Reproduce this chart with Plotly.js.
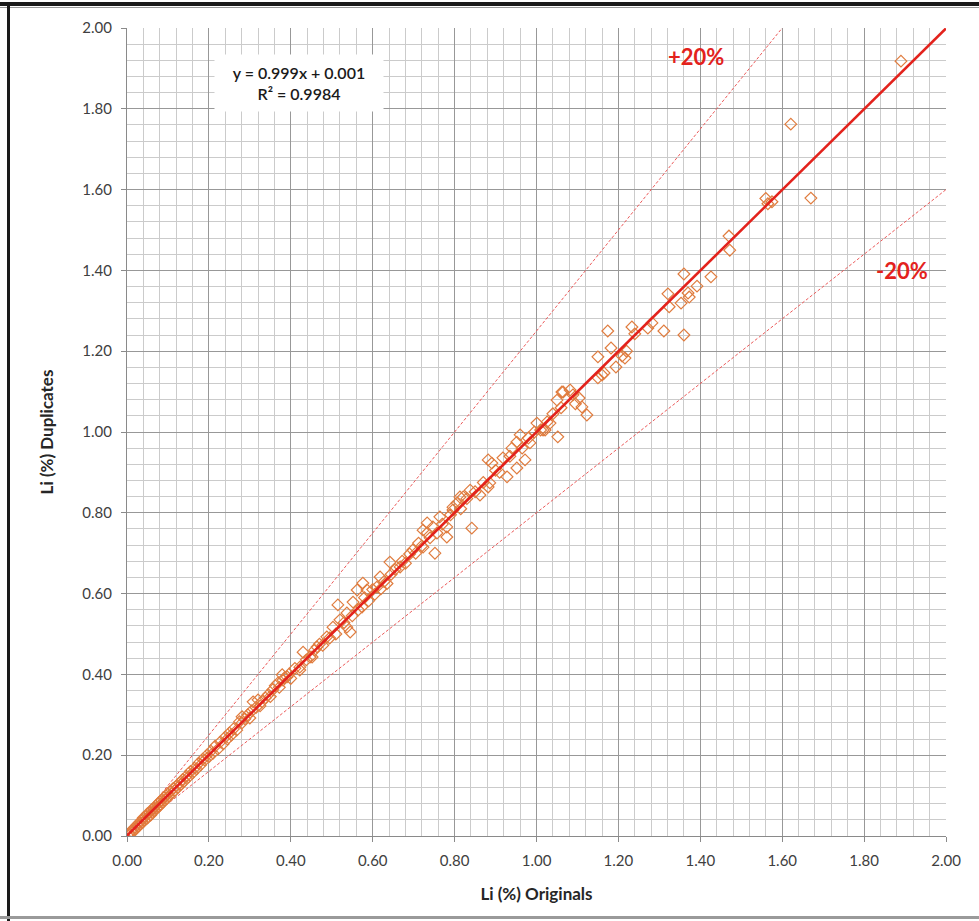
<!DOCTYPE html>
<html>
<head>
<meta charset="utf-8">
<script src="https://cdn.plot.ly/plotly-3.0.1.min.js"></script>
<style>
  html, body { margin: 0; padding: 0; background: #ffffff; }
  #wrap { position: relative; width: 979px; height: 921px; overflow: hidden; }
  #chart { position: absolute; left: 0; top: 0; width: 979px; height: 921px; }
  .frame { position: absolute; pointer-events: none; }
</style>
</head>
<body>
<div id="wrap">
  <div id="chart"></div>
  <div class="frame" style="left:0;top:2px;width:979px;height:4px;background:#1a1a1a;"></div>
  <div class="frame" style="left:0;top:7px;width:979px;height:1px;background:#9a9a9a;"></div>
  <div class="frame" style="left:7px;top:2px;width:3px;height:919px;background:#1a1a1a;"></div>
  <div class="frame" style="left:0;top:916px;width:979px;height:3px;background:#9a9a9a;"></div>
</div>
<script>
// Li (%) Originals (x) and Li (%) Duplicates (y)
const originals = [
  0.005,0.010,0.012,0.015,0.018,0.020,0.022,0.025,0.028,0.030,0.032,0.035,0.038,0.040,0.042,0.045,0.048,0.050,0.052,0.055,
  0.058,0.060,0.062,0.065,0.068,0.070,0.072,0.075,0.078,0.080,0.082,0.085,0.088,0.090,0.093,0.095,0.098,0.100,0.103,0.106,
  0.110,0.113,0.116,0.120,0.124,0.128,0.132,0.136,0.140,0.145,0.150,0.155,0.160,0.165,0.170,0.175,0.180,0.185,0.190,0.195,
  0.200,0.205,0.210,0.215,0.222,0.228,0.235,0.240,0.245,0.250,0.255,0.260,0.268,0.275,0.281,0.281,0.288,0.295,0.300,0.305,
  0.308,0.315,0.320,0.325,0.330,0.338,0.345,0.350,0.356,0.362,0.369,0.372,0.379,0.381,0.385,0.391,0.395,0.400,0.410,0.422,
  0.422,0.430,0.438,0.447,0.452,0.458,0.464,0.470,0.478,0.488,0.495,0.503,0.510,0.515,0.520,0.530,0.537,0.537,0.545,0.550,
  0.552,0.562,0.565,0.574,0.576,0.580,0.586,0.590,0.600,0.605,0.610,0.618,0.620,0.628,0.635,0.642,0.645,0.655,0.667,0.672,
  0.680,0.690,0.698,0.705,0.712,0.720,0.723,0.723,0.733,0.733,0.740,0.747,0.752,0.757,0.764,0.770,0.781,0.781,0.790,0.796,
  0.796,0.806,0.813,0.815,0.821,0.830,0.838,0.842,0.850,0.862,0.870,0.882,0.882,0.886,0.891,0.900,0.910,0.918,0.928,0.935,
  0.940,0.952,0.952,0.960,0.965,0.972,0.980,0.984,0.995,1.001,1.010,1.016,1.021,1.026,1.033,1.040,1.050,1.052,1.060,1.062,
  1.065,1.082,1.089,1.095,1.104,1.111,1.123,1.150,1.150,1.160,1.165,1.174,1.182,1.194,1.209,1.216,1.220,1.233,1.240,1.272,
  1.282,1.311,1.321,1.324,1.353,1.360,1.360,1.370,1.373,1.392,1.426,1.472,1.470,1.560,1.565,1.575,1.621,1.670,1.890
];
const duplicates = [
  0.004,0.012,0.008,0.017,0.014,0.022,0.018,0.028,0.024,0.033,0.029,0.037,0.033,0.045,0.038,0.048,0.043,0.055,0.047,0.058,
  0.052,0.065,0.058,0.068,0.063,0.074,0.069,0.080,0.073,0.085,0.078,0.088,0.084,0.095,0.089,0.100,0.094,0.105,0.099,0.110,
  0.106,0.118,0.112,0.123,0.120,0.131,0.128,0.140,0.136,0.148,0.146,0.160,0.156,0.168,0.166,0.180,0.176,0.190,0.188,0.200,
  0.196,0.210,0.205,0.222,0.215,0.233,0.228,0.245,0.240,0.255,0.250,0.265,0.262,0.283,0.295,0.280,0.290,0.300,0.292,0.310,
  0.332,0.318,0.337,0.322,0.333,0.342,0.350,0.345,0.362,0.372,0.379,0.368,0.399,0.386,0.392,0.394,0.400,0.390,0.415,0.418,
  0.411,0.455,0.436,0.443,0.443,0.460,0.468,0.475,0.472,0.493,0.490,0.517,0.500,0.572,0.535,0.528,0.552,0.517,0.505,0.545,
  0.579,0.609,0.560,0.567,0.626,0.590,0.609,0.582,0.610,0.598,0.616,0.641,0.612,0.630,0.625,0.678,0.648,0.660,0.666,0.680,
  0.675,0.698,0.708,0.700,0.725,0.718,0.715,0.757,0.775,0.750,0.738,0.765,0.700,0.750,0.790,0.772,0.765,0.740,0.795,0.807,
  0.814,0.824,0.839,0.810,0.839,0.835,0.856,0.762,0.852,0.844,0.875,0.864,0.931,0.874,0.923,0.905,0.900,0.936,0.889,0.940,
  0.960,0.975,0.911,0.993,0.960,0.931,0.985,0.973,1.000,1.022,1.005,1.005,1.005,1.025,1.022,1.045,1.079,0.988,1.060,1.099,
  1.099,1.104,1.092,1.070,1.084,1.062,1.042,1.186,1.134,1.141,1.146,1.250,1.208,1.161,1.188,1.183,1.200,1.260,1.243,1.257,
  1.270,1.250,1.342,1.310,1.319,1.391,1.240,1.344,1.334,1.361,1.384,1.450,1.485,1.578,1.565,1.570,1.762,1.579,1.918
];

// Linear fit shown on the chart and the +/-20% envelope factors
const fitSlope = 0.999;
const fitIntercept = 0.001;
const upperFactor = 1 / 0.8;
const lowerFactor = 0.8;
const lineX = [0, 2];

const fitLabel = "y = 0.999x + 0.001<br>R² = 0.9984";
const upperLabel = "+20%";
const lowerLabel = "-20%";
const xTitle = "Li (%) Originals";
const yTitle = "Li (%) Duplicates";

const font = "Lato, 'Open Sans', sans-serif";
const red = "#e3221c";

const traces = [
  {
    x: lineX, y: lineX.map(v => v * upperFactor), mode: "lines",
    line: { color: "#ec5a5a", width: 1, dash: "3px,2px" }, hoverinfo: "skip", showlegend: false
  },
  {
    x: lineX, y: lineX.map(v => v * lowerFactor), mode: "lines",
    line: { color: "#ec5a5a", width: 1, dash: "3px,2px" }, hoverinfo: "skip", showlegend: false
  },
  {
    x: originals, y: duplicates, mode: "markers", type: "scatter",
    marker: { symbol: "diamond-open", size: 9, color: "#e07c3e", line: { width: 1.2, color: "#e07c3e" } },
    showlegend: false
  },
  {
    x: lineX, y: lineX.map(v => fitSlope * v + fitIntercept), mode: "lines",
    line: { color: red, width: 2.6 }, hoverinfo: "skip", showlegend: false
  }
];

const axisCommon = {
  range: [0, 2], dtick: 0.2, tick0: 0, tickformat: ".2f",
  showgrid: true, gridcolor: "#989898", gridwidth: 1,
  minor: { dtick: 0.04, showgrid: true, gridcolor: "#cbcbcb", gridwidth: 1, ticks: "" },
  ticks: "outside", ticklen: 5, tickcolor: "#8a8a8a", tickwidth: 1,
  showline: true, linecolor: "#8a8a8a", linewidth: 1, mirror: false,
  zeroline: false, fixedrange: true,
  tickfont: { family: font, size: 15, color: "#404040" }
};

const layout = {
  width: 979, height: 921,
  margin: { l: 127, r: 33, t: 28, b: 85 },
  paper_bgcolor: "#ffffff", plot_bgcolor: "#ffffff",
  xaxis: Object.assign({}, axisCommon, {
    ticklabelstandoff: 6,
    title: { text: xTitle, font: { family: font, size: 17, color: "#262626", weight: 700 }, standoff: 20 }
  }),
  yaxis: Object.assign({}, axisCommon, {
    ticklabelstandoff: 6,
    title: { text: yTitle, font: { family: font, size: 17, color: "#262626", weight: 700 }, standoff: 24 }
  }),
  annotations: [
    {
      xref: "x", yref: "y", x: 0.42, y: 1.865, text: fitLabel, showarrow: false,
      font: { family: font, size: 16, color: "#1a1a1a", weight: 600 },
      bgcolor: "#ffffff", borderpad: 8, align: "center", width: 152
    },
    {
      xref: "x", yref: "y", x: 1.39, y: 1.93, text: upperLabel, showarrow: false,
      font: { family: font, size: 22, color: red, weight: 700 }
    },
    {
      xref: "x", yref: "y", x: 1.893, y: 1.40, text: lowerLabel, showarrow: false,
      font: { family: font, size: 22, color: red, weight: 700 }
    }
  ],
  showlegend: false
};

Plotly.newPlot("chart", traces, layout, { staticPlot: true, displayModeBar: false });
</script>
</body>
</html>
